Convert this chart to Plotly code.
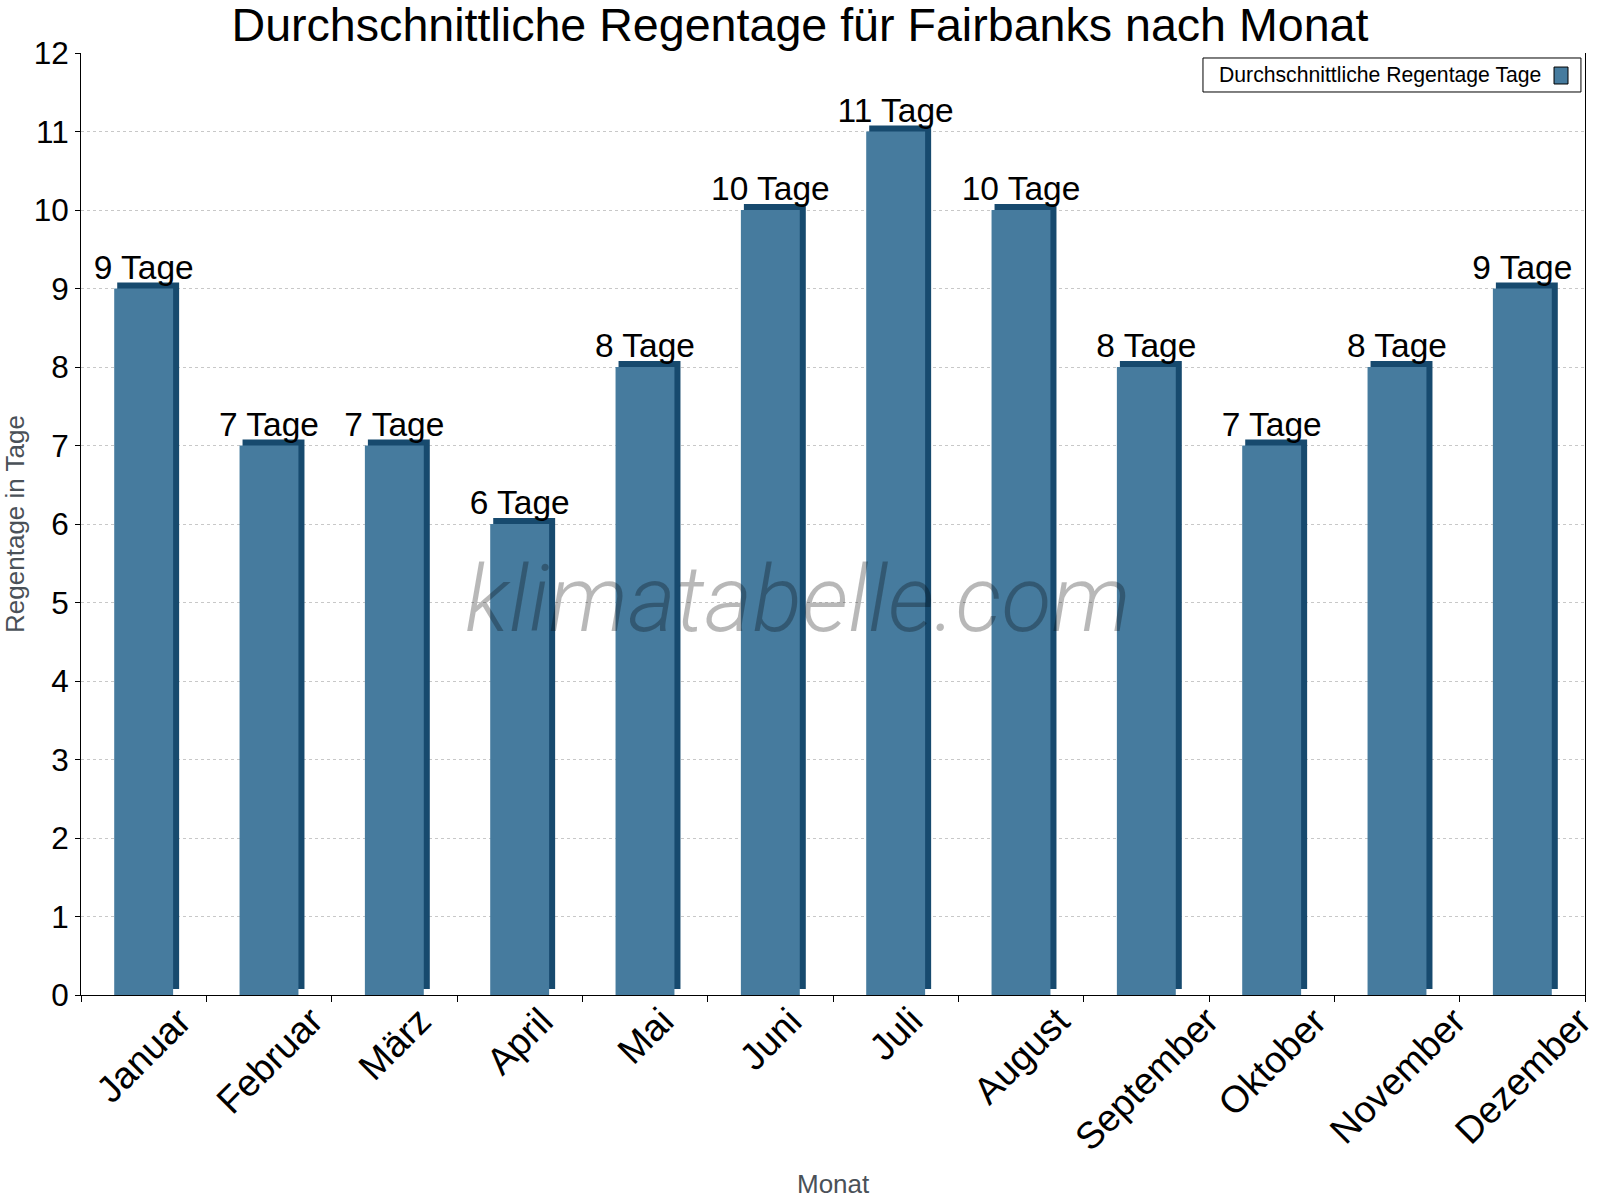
import plotly.graph_objects as go

months = ["Januar", "Februar", "März", "April", "Mai", "Juni", "Juli",
          "August", "September", "Oktober", "November", "Dezember"]
rain_days = [9, 7, 7, 6, 8, 10, 11, 10, 8, 7, 8, 9]
labels = [f"{v} Tage" for v in rain_days]
y_ticks = list(range(0, 13))

FRONT = "rgb(70,123,158)"
DARK = "rgb(23,74,110)"
FONT = "Liberation Sans, Arial, sans-serif"

fig = go.Figure()

# depth (side/top face) of the pseudo-3D bars
fig.add_trace(go.Bar(
    x=months, y=rain_days, base=0.076,
    width=0.494, offset=-0.211,
    marker=dict(color=DARK, line=dict(width=0)),
    hoverinfo="skip", showlegend=False,
))
# front face
fig.add_trace(go.Bar(
    x=months, y=rain_days,
    width=0.47, offset=-0.235,
    marker=dict(color=FRONT, line=dict(width=0)),
    text=labels, textposition="outside", constraintext="none",
    textfont=dict(family=FONT, size=33.5, color="black"),
    cliponaxis=False,
    name="Durchschnittliche Regentage Tage", showlegend=False,
))

annotations = []
for m in months:
    annotations.append(dict(
        x=m, xref="x", y=-0.002, yref="paper",
        text=m, textangle=-45, showarrow=False,
        xanchor="center", yanchor="top",
        font=dict(family=FONT, size=37.5, color="black"),
    ))

annotations.append(dict(
    x=0.5, xref="paper", y=-0.2006, yref="paper",
    text="Monat", showarrow=False, xanchor="center", yanchor="middle",
    font=dict(family=FONT, size=26, color="#4a5158"),
))

# watermark
annotations.append(dict(
    x=0.477, xref="paper", y=0.42, yref="paper",
    text="klimatabelle.com", showarrow=False, xanchor="center", yanchor="middle",
    font=dict(family="Roboto, Liberation Sans, sans-serif", size=92,
              color="rgba(0,0,0,0.28)", style="italic", weight=300),
))

# legend text
annotations.append(dict(
    x=0.7553, xref="paper", y=0.9766, yref="paper",
    text="Durchschnittliche Regentage Tage", showarrow=False,
    xanchor="left", yanchor="middle",
    font=dict(family=FONT, size=21.2, color="black"),
))

shapes = [
    dict(type="rect", xref="paper", yref="paper", x0=0.7460, x1=0.9973,
         y0=0.9586, y1=0.9947, line=dict(color="black", width=1),
         fillcolor="white", layer="above"),
    dict(type="rect", xref="paper", yref="paper", x0=0.9794, x1=0.9887,
         y0=0.9671, y1=0.9851, line=dict(color="black", width=1),
         fillcolor=FRONT, layer="above"),
]

fig.update_layout(
    width=1600, height=1200,
    margin=dict(l=81, r=15, t=53, b=205, autoexpand=False),
    paper_bgcolor="white", plot_bgcolor="white",
    barmode="overlay",
    showlegend=False,
    title=dict(text="Durchschnittliche Regentage für Fairbanks nach Monat",
               x=0.5, xanchor="center", y=0.9795, yref="container", yanchor="middle",
               font=dict(family=FONT, size=46.6, color="black")),
    annotations=annotations,
    shapes=shapes,
    xaxis=dict(type="category", range=[-0.5, 11.5], showticklabels=False,
               ticks="outside", tickson="boundaries", ticklen=6,
               tickcolor="black", showline=True, linecolor="black", linewidth=1,
               showgrid=False, zeroline=False),
    yaxis=dict(range=[0, 12], tickvals=y_ticks, ticks="outside", ticklen=5,
               tickcolor="black", showline=True, linecolor="black", linewidth=1,
               mirror=True, showgrid=True, gridcolor="#c8c8c8", griddash="dot",
               gridwidth=1, zeroline=False,
               tickfont=dict(family=FONT, size=31.5, color="black"),
               title=dict(text="Regentage in Tage", standoff=4,
                          font=dict(family=FONT, size=26, color="#4a5158"))),
)

fig.write_html("out.html")
